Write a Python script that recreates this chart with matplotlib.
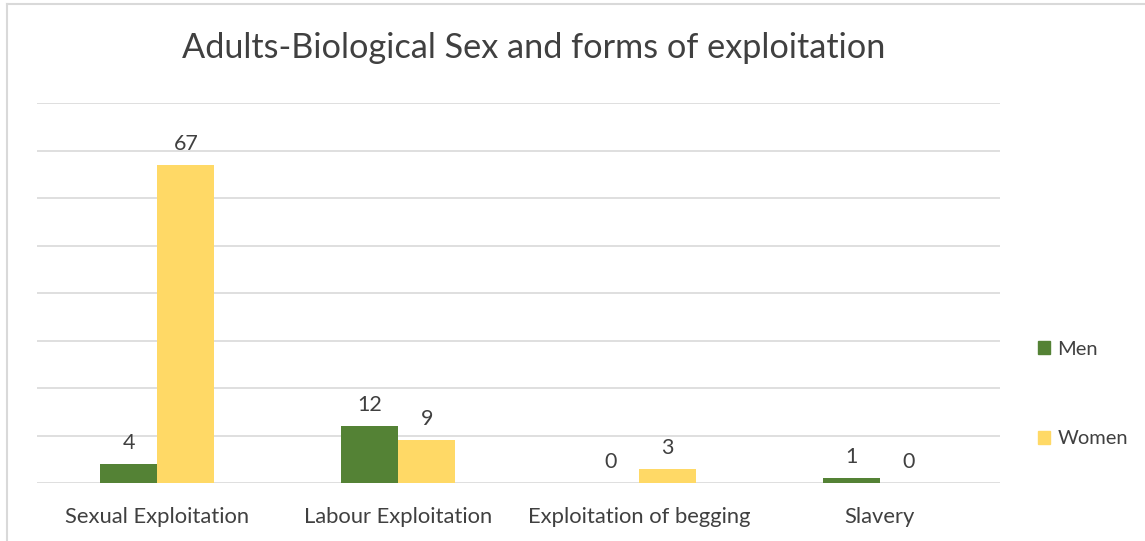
import numpy as np
import matplotlib.pyplot as plt
from matplotlib.patches import Patch

plt.rcParams['font.family'] = ['Lato', 'DejaVu Sans']

categories = ["Sexual Exploitation", "Labour Exploitation", "Exploitation of begging", "Slavery"]
men = [4, 12, 0, 1]
women = [67, 9, 3, 0]

text_col = "#404040"
men_col = "#548235"
women_col = "#FFD966"

fig = plt.figure(figsize=(11.45, 5.41), dpi=100)
ax = fig.add_axes([37/1145, 1-483/541, 963/1145, 380/541])

x = np.arange(len(categories))
w = 0.237
b1 = ax.bar(x - w/2, men, w, color=men_col, zorder=3)
b2 = ax.bar(x + w/2, women, w, color=women_col, zorder=3)

for bars, vals in ((b1, men), (b2, women)):
    for r, v in zip(bars, vals):
        ax.text(r.get_x() + r.get_width()/2, v + 2.3, str(v), ha='center', va='bottom',
                fontsize=15.5, color=text_col)

ax.set_xlim(-0.5, 3.5)
ax.set_ylim(0, 80)
ax.set_yticks(np.arange(0, 81, 10))
ax.yaxis.grid(True, color="#d9d9d9", linewidth=1.2, zorder=0)
ax.tick_params(axis='y', left=False, labelleft=False)
ax.tick_params(axis='x', bottom=False, pad=14)
ax.set_xticks(x)
ax.set_xticklabels(categories, fontsize=15.8, color=text_col)
for s in ax.spines.values():
    s.set_visible(False)

fig.text(534/1145, 1-48/541, "Adults-Biological Sex and forms of exploitation",
         ha='center', va='center', fontsize=24.7, color=text_col)

handles = [Patch(color=men_col, label="Men"), Patch(color=women_col, label="Women")]
fig.legend(handles=handles, loc='center left', bbox_to_anchor=(1020/1145, 1-394/541),
           frameon=False, fontsize=14.5, labelspacing=3.6, handlelength=0.6, handleheight=0.6,
           handletextpad=0.35, labelcolor=text_col)

# chart border (left and top edges visible)
fig.add_artist(plt.Line2D([7/1145, 7/1145], [0, 1-4/541], color="#d9d9d9", lw=1.5))
fig.add_artist(plt.Line2D([7/1145, 1], [1-4/541, 1-4/541], color="#d9d9d9", lw=1.5))

fig.savefig("out.png", dpi=100)
